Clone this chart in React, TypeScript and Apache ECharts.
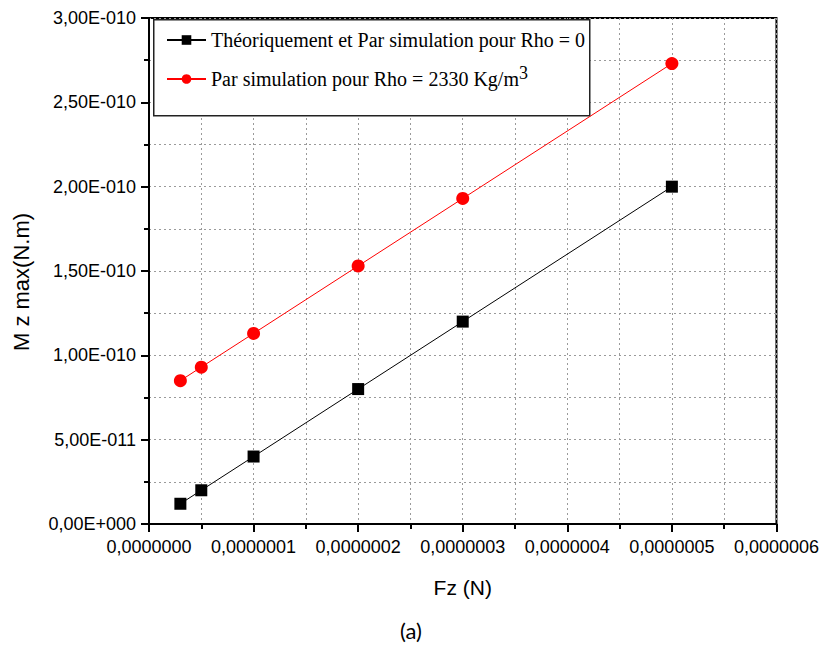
import React, { useEffect, useRef } from "react";
import * as echarts from "echarts";

const fzValues = [0.3e-7, 0.5e-7, 1e-7, 2e-7, 3e-7, 5e-7];
const theoryValues = [1.2e-11, 2.0e-11, 4.0e-11, 8.0e-11, 1.2e-10, 2.0e-10];
const rhoValues = [8.5e-11, 9.3e-11, 1.13e-10, 1.53e-10, 1.93e-10, 2.73e-10];
const seriesNames = ["Théoriquement et Par simulation pour Rho = 0", "Par simulation pour Rho = 2330 Kg/m"];
const xTitle = "Fz (N)";
const yTitle = "M z max(N.m)";
const caption = "(a)";

function fmtSci(v: number): string {
  if (Math.abs(v) < 1e-30) return "0,00E+000";
  let exp = Math.floor(Math.log10(Math.abs(v)));
  let m = (v / Math.pow(10, exp)).toFixed(2);
  if (m === "10.00") {
    exp += 1;
    m = (v / Math.pow(10, exp)).toFixed(2);
  }
  const sign = exp < 0 ? "-" : "+";
  const e = String(Math.abs(exp)).padStart(3, "0");
  return m.replace(".", ",") + "E" + sign + e;
}

function fmtX(v: number): string {
  return v.toFixed(7).replace(".", ",");
}

export default function App() {
  const ref = useRef<HTMLDivElement>(null);
  useEffect(() => {
    if (!ref.current) return;
    const chart = echarts.init(ref.current, null, { renderer: "svg" });
    const sans = "'Liberation Sans', Arial, sans-serif";
    const serif = "'Liberation Serif', 'Times New Roman', serif";
    const gridLine = { show: true, lineStyle: { color: "#9a9a9a", type: [2, 3] as any, width: 1 } };
    chart.setOption({
      animation: false,
      backgroundColor: "#ffffff",
      grid: {
        left: 149,
        right: 45,
        top: 18,
        bottom: 127,
        show: true,
        borderColor: "#000",
        borderWidth: 2,
        containLabel: false,
      },
      legend: {
        orient: "vertical",
        left: 166,
        top: 30,
        padding: 0,
        itemGap: 14,
        itemWidth: 39,
        itemHeight: 12,
        z: 20,
        data: seriesNames,
        formatter: (name: string) =>
          name === seriesNames[1] ? "{n|" + name + "}{s|3}" : "{n|" + name + "}",
        textStyle: {
          fontFamily: serif,
          fontSize: 20,
          color: "#000",
          rich: {
            n: { fontFamily: serif, fontSize: 20, color: "#000", lineHeight: 30 },
            s: { fontFamily: serif, fontSize: 18, color: "#000", verticalAlign: "top", lineHeight: 18 },
          },
        },
      },
      xAxis: {
        type: "value",
        min: 0,
        max: 6e-7,
        interval: 1e-7,
        name: xTitle,
        nameLocation: "middle",
        nameGap: 53,
        nameTextStyle: { fontFamily: sans, fontSize: 21, color: "#000" },
        axisLine: { show: true, onZero: false, lineStyle: { color: "#000", width: 2 } },
        axisTick: { show: true, length: 8, lineStyle: { color: "#000", width: 2 } },
        minorTick: { show: true, splitNumber: 2, length: 5, lineStyle: { color: "#000", width: 2 } },
        axisLabel: { formatter: fmtX, fontFamily: sans, fontSize: 18, color: "#000", margin: 14 },
        splitLine: gridLine,
        minorSplitLine: gridLine,
      },
      yAxis: {
        type: "value",
        min: 0,
        max: 3e-10,
        interval: 5e-11,
        axisLine: { show: true, onZero: false, lineStyle: { color: "#000", width: 2 } },
        axisTick: { show: true, length: 8, lineStyle: { color: "#000", width: 2 } },
        minorTick: { show: true, splitNumber: 2, length: 5, lineStyle: { color: "#000", width: 2 } },
        axisLabel: { formatter: fmtSci, fontFamily: sans, fontSize: 18, color: "#000", margin: 13 },
        splitLine: gridLine,
        minorSplitLine: gridLine,
      },
      graphic: [
        {
          type: "rect",
          left: 153,
          top: 19,
          shape: { width: 436, height: 96 },
          style: { fill: "#fff", stroke: "#222", lineWidth: 1.5 },
          z: 2,
        },
        {
          type: "text",
          x: 21,
          y: 282,
          rotation: Math.PI / 2,
          style: {
            text: yTitle,
            fontFamily: sans,
            fontSize: 22,
            fill: "#000",
            align: "center",
            verticalAlign: "middle",
          },
        },
        {
          type: "text",
          left: "center",
          top: 619,
          style: {
            text: caption,
            fontFamily: "Lato, 'Open Sans', sans-serif",
            fontSize: 22,
            fill: "#000",
          },
        },
      ],
      series: [
        {
          name: seriesNames[0],
          type: "line",
          data: fzValues.map((x, i) => [x, theoryValues[i]]),
          symbol: "rect",
          symbolSize: 12,
          itemStyle: { color: "#000" },
          lineStyle: { color: "#000", width: 1 },
          z: 3,
        },
        {
          name: seriesNames[1],
          type: "line",
          data: fzValues.map((x, i) => [x, rhoValues[i]]),
          symbol: "circle",
          symbolSize: 13,
          itemStyle: { color: "#ff0000" },
          lineStyle: { color: "#ff0000", width: 1 },
          z: 3,
        },
      ],
    });
    return () => chart.dispose();
  }, []);
  return <div ref={ref} style={{ position: "fixed", left: 0, top: 0, width: 822, height: 651 }} />;
}
